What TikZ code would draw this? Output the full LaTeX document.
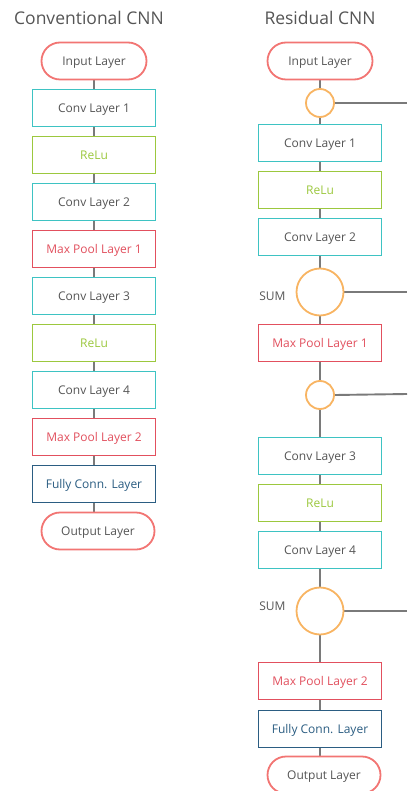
\documentclass[tikz,border=0pt]{standalone}
\usepackage{fontspec}
\setmainfont{Open Sans}
\usetikzlibrary{backgrounds}
\definecolor{txtgray}{HTML}{555555}
\definecolor{linegray}{HTML}{7A7A7A}
\definecolor{termred}{HTML}{F27573}
\definecolor{convteal}{HTML}{3EC3C3}
\definecolor{relugreen}{HTML}{9CC83E}
\definecolor{poolred}{HTML}{E2505E}
\definecolor{fcblue}{HTML}{2B5D82}
\definecolor{sumorange}{HTML}{F8B462}
\tikzset{
  layer/.style={draw, rectangle, fill=white, line width=1.8pt, minimum width=123pt,
    minimum height=37pt, inner sep=0pt, text height=8.6pt, text depth=0pt,
    font=\fontsize{12}{14}\selectfont},
  term/.style={layer, draw=termred, text=txtgray, rounded corners=18.5pt, minimum width=105pt},
  conv/.style={layer, draw=convteal, text=txtgray},
  relu/.style={layer, draw=relugreen, text=relugreen},
  pool/.style={layer, draw=poolred, text=poolred},
  fc/.style={layer, draw=fcblue, text=fcblue},
  junc/.style={draw=sumorange, fill=white, circle, line width=1.8pt, inner sep=0pt, minimum size=28pt},
  sumnode/.style={junc, minimum size=47pt},
  link/.style={draw=linegray, line width=1.9pt},
  heading/.style={text=txtgray, font=\fontsize{17.5}{21}\selectfont},
  sidelabel/.style={text=txtgray, text height=8.6pt, text depth=0pt, font=\fontsize{12}{14}\selectfont}
}
\begin{document}
\begin{tikzpicture}[x=1pt, y=-1pt]
\useasboundingbox (0,0) rectangle (407,791);

% conventional network
\node[heading] (t1) at (89,18) {Conventional CNN};
\node[term] (a0) at (94,61) {Input Layer};
\node[conv] (a1) at (94,108) {Conv Layer 1};
\node[relu] (a2) at (94,155) {ReLu};
\node[conv] (a3) at (94,202) {Conv Layer 2};
\node[pool] (a4) at (94,249) {Max Pool Layer 1};
\node[conv] (a5) at (94,296) {Conv Layer 3};
\node[relu] (a6) at (94,343) {ReLu};
\node[conv] (a7) at (94,390) {Conv Layer 4};
\node[pool] (a8) at (94,437) {Max Pool Layer 2};
\node[fc] (a9) at (94,484) {Fully Conn. Layer};
\node[term, minimum width=113pt] (a10) at (98,531) {Output Layer};

% residual network
\node[heading] (t2) at (320,18) {Residual CNN};
\node[term] (b0) at (320,61) {Input Layer};
\node[junc] (j1) at (320,103) {};
\node[conv] (b1) at (320,143) {Conv Layer 1};
\node[relu] (b2) at (320,190) {ReLu};
\node[conv] (b3) at (320,237) {Conv Layer 2};
\node[sumnode] (s1) at (320,292) {};
\node[sidelabel, anchor=east] (l1) at (289,296) {SUM};
\node[pool] (b4) at (320,343) {Max Pool Layer 1};
\node[junc] (j2) at (320,395) {};
\node[conv] (b5) at (320,456) {Conv Layer 3};
\node[relu] (b6) at (320,503) {ReLu};
\node[conv] (b7) at (320,550) {Conv Layer 4};
\node[sumnode] (s2) at (320,611) {};
\node[sidelabel, anchor=east] (l2) at (289,606) {SUM};
\node[pool] (b8) at (320,681) {Max Pool Layer 2};
\node[fc] (b9) at (320,729) {Fully Conn. Layer};
\node[term, minimum width=113pt] (b10) at (324,775) {Output Layer};

% skip branches leaving to the right
\coordinate (e1) at (407,103);
\coordinate (e2) at (407,292);
\coordinate (e3) at (407,394);
\coordinate (e4) at (407,611);

\begin{scope}[on background layer]
  \foreach \u/\v in {a0/a1,a1/a2,a2/a3,a3/a4,a4/a5,a5/a6,a6/a7,a7/a8,a8/a9}
    \draw[link] (\u) -- (\v);
  \draw[link] (a9.south) -- (a10.north -| a9.south);
  \foreach \u/\v in {b0/j1,j1/b1,b1/b2,b2/b3,b3/s1,s1/b4,b4/j2,j2/b5,b5/b6,b6/b7,b7/s2,s2/b8,b8/b9}
    \draw[link] (\u) -- (\v);
  \draw[link] (b9.south) -- (b10.north -| b9.south);
  \draw[link] (j1.east) -- (e1);
  \draw[link] (s1.east) -- (e2);
  \draw[link] (j2.east) -- (e3);
  \draw[link] (s2.east) -- (e4);
\end{scope}
\end{tikzpicture}
\end{document}
